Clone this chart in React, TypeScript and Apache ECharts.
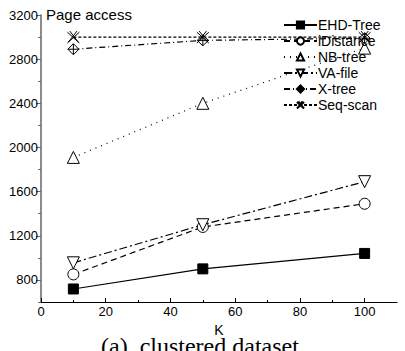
import React, { useEffect, useRef } from "react";
import * as echarts from "echarts";

const kValues = [10, 50, 100];
const ehdTree = [718, 900, 1040];
const iDistance = [850, 1280, 1490];
const nbTree = [1910, 2400, 2900];
const vaFile = [955, 1300, 1690];
const xTree = [2890, 2970, 2990];
const seqScan = [3000, 3000, 3000];
const seriesNames = ["EHD-Tree", "iDistance", "NB-tree", "VA-file", "X-tree", "Seq-scan"];
const xTickLabels = [0, 20, 40, 60, 80, 100];
const yTickLabels = [800, 1200, 1600, 2000, 2400, 2800, 3200];

const INV_TRI = "path://M0,0 L10,0 L5,9 Z";
const DIAMOND_PLUS = "path://M5,0 L10,5 L5,10 L0,5 Z M5,0 L5,10 M0,5 L10,5";
const STAR_X = "path://M0,0 L10,10 M10,0 L0,10 M2,-1 L9,9 M8,-1 L1,9";
const FONT = "Arial";

export default function App() {
  const ref = useRef<HTMLDivElement>(null);
  useEffect(() => {
    if (!ref.current) return;
    const chart = echarts.init(ref.current, undefined, { renderer: "svg" });
    const pair = (vals: number[]) => kValues.map((k, i) => [k, vals[i]]);
    const mk = (
      name: string,
      vals: number[],
      symbol: string,
      size: number,
      dash: any,
      fill: string
    ) => ({
      name,
      type: "line",
      data: pair(vals),
      symbol,
      symbolSize: size,
      showAllSymbol: true,
      lineStyle: { color: "#000", width: 1.2, type: dash },
      itemStyle: { color: fill, borderColor: "#000", borderWidth: 1 },
      emphasis: { disabled: true },
      z: 3,
    });
    chart.setOption({
      animation: false,
      backgroundColor: "#fff",
      grid: { left: 41, right: 8, top: 15, bottom: 49, containLabel: false },
      xAxis: {
        type: "value",
        min: 0,
        max: 110,
        interval: 20,
        name: "K",
        nameLocation: "middle",
        nameGap: 12,
        nameTextStyle: { fontFamily: FONT, fontSize: 14, color: "#000" },
        axisLine: { lineStyle: { color: "#000", width: 1.2 } },
        axisTick: { inside: true, length: 4, lineStyle: { color: "#000" }, customValues: xTickLabels },
        minorTick: { show: true, splitNumber: 2, length: 2, lineStyle: { color: "#000" } },
        axisLabel: {
          customValues: xTickLabels,
          fontFamily: FONT,
          fontSize: 13,
          color: "#000",
          margin: 3,
        },
        splitLine: { show: false },
      },
      yAxis: [
        {
          type: "value",
          min: 600,
          max: 3200,
          interval: 200,
          position: "left",
          axisLine: { show: true, lineStyle: { color: "#666", width: 1.5 } },
          axisTick: { length: 5, lineStyle: { color: "#666" }, customValues: yTickLabels },
          axisLabel: {
            customValues: yTickLabels,
            formatter: (v: number) => String(v),
            fontFamily: FONT,
            fontSize: 13,
            color: "#000",
            margin: 3,
          },
          splitLine: { show: false },
        },
        {
          type: "value",
          min: 600,
          max: 3200,
          interval: 200,
          position: "left",
          offset: 0,
          axisLine: { show: false },
          axisTick: { length: 3, lineStyle: { color: "#666" } },
          axisLabel: { show: false },
          splitLine: { show: false },
        },
      ],
      legend: {
        orient: "vertical",
        left: 278,
        top: 13,
        itemWidth: 33,
        itemHeight: 9,
        itemGap: 2,
        data: seriesNames,
        textStyle: {
          fontFamily: FONT,
          fontSize: 14,
          color: "#000",
          padding: [0, 0, 0, -4],
        },
      },
      graphic: [
        {
          type: "text",
          left: 46,
          top: 7,
          style: { text: "Page access", font: "15px Arial", fill: "#000" },
        },
        {
          type: "text",
          left: 101,
          top: 334,
          style: {
            text: "(a)  clustered dataset",
            font: "24px 'Liberation Serif', 'Times New Roman', serif",
            fill: "#000",
          },
        },
      ],
      series: [
        mk(seriesNames[0], ehdTree, "rect", 10, "solid", "#000"),
        mk(seriesNames[1], iDistance, "circle", 11, [6, 4], "#fff"),
        mk(seriesNames[2], nbTree, "triangle", 12, [1, 5], "#fff"),
        mk(seriesNames[3], vaFile, INV_TRI, 12, [8, 3, 2, 3], "#fff"),
        mk(seriesNames[4], xTree, DIAMOND_PLUS, 11, [6, 3, 1, 3], "#fff"),
        mk(seriesNames[5], seqScan, STAR_X, 12, [3, 2], "transparent"),
      ],
    });
    return () => chart.dispose();
  }, []);
  return <div ref={ref} style={{ width: 405, height: 351, position: "absolute", left: 0, top: 0 }} />;
}
